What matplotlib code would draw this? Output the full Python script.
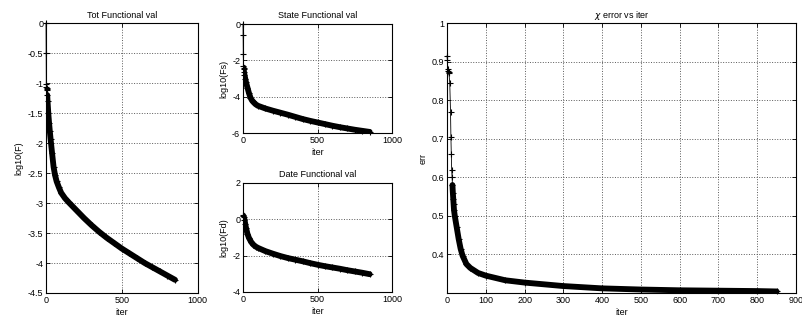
import matplotlib
matplotlib.use('Agg')
import matplotlib.pyplot as plt
from matplotlib.ticker import FormatStrFormatter

# values (log10 of functionals and chi error per iter)
tot_iter = [0, 1, 2, 3, 4, 5, 6, 8, 10, 15, 20, 25, 30, 40, 50, 60, 70, 85, 100,
            125, 150, 200, 250, 300, 350, 400, 450, 500, 550, 600, 650, 700, 750, 800, 850]
tot_val = [0, -0.5, -1.02, -1.06, -1.09, -1.1, -1.12, -1.2, -1.3, -1.5, -1.66, -1.8, -1.93,
           -2.17, -2.4, -2.54, -2.64, -2.74, -2.83, -2.92, -2.99, -3.12, -3.25, -3.37, -3.48,
           -3.58, -3.67, -3.76, -3.84, -3.92, -4.0, -4.07, -4.14, -4.21, -4.28]

fs_iter = [0, 1, 2, 3, 4, 5, 7, 10, 15, 20, 30, 40, 50, 60, 70, 85, 100, 150, 200, 250,
           300, 350, 400, 450, 500, 550, 600, 650, 700, 750, 800, 850]
fs_val = [0, -0.6, -1.65, -2.3, -2.4, -2.5, -2.65, -2.8, -3.0, -3.2, -3.5, -3.8, -4.05,
          -4.2, -4.3, -4.42, -4.5, -4.65, -4.77, -4.88, -4.99, -5.11, -5.23, -5.33, -5.42,
          -5.51, -5.6, -5.68, -5.75, -5.82, -5.88, -5.94]

fd_iter = [0, 2, 5, 10, 15, 20, 30, 40, 55, 70, 85, 100, 150, 200, 250, 300, 350, 400,
           450, 500, 550, 600, 650, 700, 750, 800, 850]
fd_val = [0.22, 0.2, 0.12, -0.02, -0.25, -0.46, -0.8, -1.02, -1.25, -1.4, -1.5, -1.57,
          -1.75, -1.89, -2.02, -2.13, -2.22, -2.31, -2.41, -2.5, -2.58, -2.65, -2.72,
          -2.8, -2.87, -2.94, -3.02]

err_iter = [0, 1, 2, 3, 4, 5, 7, 9, 10, 11, 12, 13, 14, 15, 16, 17, 18, 20, 25, 30, 35,
            40, 50, 60, 80, 100, 150, 200, 300, 400, 500, 600, 700, 800, 850]
err_val = [0.915, 0.905, 0.88, 0.875, 0.872, 0.87, 0.845, 0.77, 0.705, 0.66, 0.62, 0.6,
           0.58, 0.56, 0.545, 0.53, 0.515, 0.5, 0.47, 0.44, 0.415, 0.397, 0.375, 0.365,
           0.352, 0.345, 0.333, 0.327, 0.318, 0.312, 0.309, 0.307, 0.306, 0.305, 0.304]

plt.rcParams['font.family'] = ['Liberation Sans', 'DejaVu Sans']
plt.rcParams['font.size'] = 6.5
plt.rcParams['axes.unicode_minus'] = False


def draw(ax, x, y, dense_from, title, ylabel, xlim, ylim, yticks, xticks):
    # sparse start: markers on a thin line (matlab does not clip markers)
    ax.plot(x, y, color='k', lw=0.6, marker='+', ms=4, mew=0.8, clip_on=False)
    # dense part: the overlapping markers form a thick band
    xs = [a for a in x if a >= dense_from]
    ys = [b for a, b in zip(x, y) if a >= dense_from]
    ax.plot(xs, ys, color='k', lw=4.2, solid_capstyle='round')
    ax.set_xlim(*xlim)
    ax.set_ylim(*ylim)
    ax.set_xticks(xticks)
    ax.set_yticks(yticks)
    ax.yaxis.set_major_formatter(FormatStrFormatter('%g'))
    ax.grid(True, color='0.35', linestyle=':', linewidth=0.7)
    ax.tick_params(direction='in', top=True, right=True, length=3, width=0.6, pad=2)
    for s in ax.spines.values():
        s.set_linewidth(0.8)
    ax.set_title(title, fontsize=6.5, pad=4)
    ax.set_xlabel('iter', labelpad=2)
    ax.set_ylabel(ylabel, labelpad=3)


fig = plt.figure(figsize=(8.03, 3.24), dpi=100)
ax1 = fig.add_axes([0.0573, 0.0957, 0.189, 0.833])
ax2 = fig.add_axes([0.3026, 0.5895, 0.1856, 0.3364])
ax3 = fig.add_axes([0.3026, 0.0988, 0.1856, 0.3364])
ax4 = fig.add_axes([0.5567, 0.0957, 0.4346, 0.833])

draw(ax1, tot_iter, tot_val, 8, 'Tot Functional val', 'log10(F)', (0, 1000), (-4.5, 0),
     [-4.5, -4, -3.5, -3, -2.5, -2, -1.5, -1, -0.5, 0], [0, 500, 1000])
draw(ax2, fs_iter, fs_val, 4, 'State Functional val', 'log10(Fs)', (0, 1000), (-6, 0),
     [-6, -4, -2, 0], [0, 500, 1000])
draw(ax3, fd_iter, fd_val, 0, 'Date Functional val', 'log10(Fd)', (0, 1000), (-4, 2),
     [-4, -2, 0, 2], [0, 500, 1000])
draw(ax4, err_iter, err_val, 14, r'$\chi$ error vs iter', 'err', (0, 900), (0.3, 1),
     [0.4, 0.5, 0.6, 0.7, 0.8, 0.9, 1], list(range(0, 1000, 100)))

fig.savefig('out.png', dpi=100)
